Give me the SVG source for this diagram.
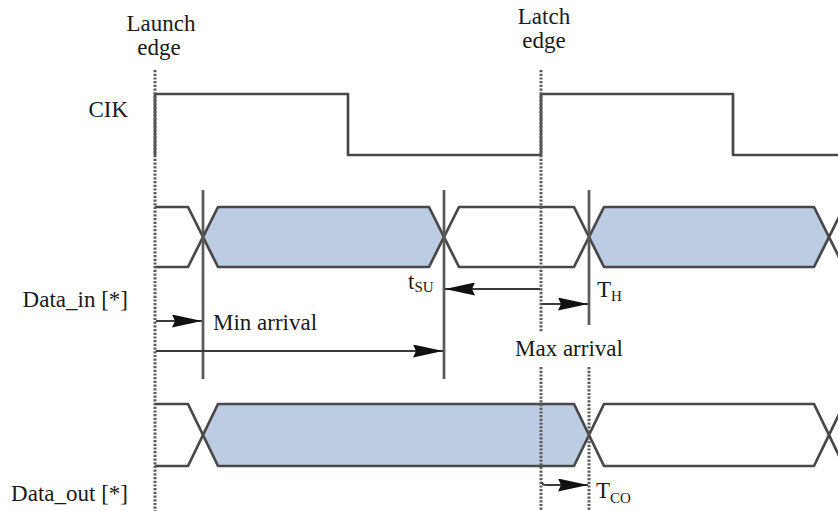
<svg xmlns="http://www.w3.org/2000/svg" width="838" height="511" viewBox="0 0 838 511">
<style>
text{font-family:"Liberation Serif","Times New Roman",serif;fill:#1a1a1a;font-size:23px}
.sig{fill:none;stroke:#484848;stroke-width:2.7;stroke-linejoin:round}
.fillb{fill:#bccce2;stroke:none}
.dot{stroke:#5c5c5c;stroke-width:3;stroke-dasharray:2.2 1.5;fill:none}
.mark{stroke:#5a5a5a;stroke-width:2.7;fill:none}
.arr{stroke:#3c3c3c;stroke-width:2;fill:none;marker-end:url(#ah)}
.sub{font-size:15px}
</style>
<defs>
<marker id="ah" viewBox="0 0 30 13" markerUnits="userSpaceOnUse" markerWidth="30" markerHeight="13" refX="30" refY="6.5" orient="auto">
<path d="M0,0 L30,6.5 L0,13 L3,6.5 z" fill="#111"/>
</marker>
</defs>
<rect width="838" height="511" fill="#fff"/>

<g id="labels">
<text x="161" y="31" text-anchor="middle">Launch</text>
<text x="159" y="55" text-anchor="middle">edge</text>
<text x="544" y="24" text-anchor="middle">Latch</text>
<text x="544" y="48" text-anchor="middle">edge</text>
<text x="128" y="117" text-anchor="end">CIK</text>
<text x="128" y="307" text-anchor="end">Data_in [*]</text>
<text x="128" y="501" text-anchor="end">Data_out [*]</text>
</g>

<g id="clk">
<path class="sig" d="M155,155 V94 H348 V155 H541 V94 H733 V155 H840"/>
</g>

<g id="data_in">
<polygon class="fillb" points="203,237 218,207 429,207 444,237 429,267 218,267"/>
<polygon class="fillb" points="589,237 604,207 814,207 829,237 814,267 604,267"/>
<path class="sig" d="M155,207 H188 L218,267 H429 L459,207 H574 L604,267 H814 L844,207"/>
<path class="sig" d="M155,267 H188 L218,207 H429 L459,267 H574 L604,207 H814 L844,267"/>
</g>

<g id="data_out">
<polygon class="fillb" points="203,435 218,404 574,404 589,435 574,466 218,466"/>
<path class="sig" d="M155,404 H188 L218,466 H574 L604,404 H814 L844,466"/>
<path class="sig" d="M155,466 H188 L218,404 H574 L604,466 H814 L844,404"/>
</g>

<g id="edges">
<line class="dot" x1="155" y1="70" x2="155" y2="511"/>
<line class="dot" x1="541" y1="70" x2="541" y2="332"/>
<line class="dot" x1="541" y1="367" x2="541" y2="511"/>
<line class="dot" x1="589" y1="367" x2="589" y2="511"/>
<line class="mark" x1="203" y1="190" x2="203" y2="379"/>
<line class="mark" x1="444" y1="190" x2="444" y2="379"/>
<line class="mark" x1="589" y1="190" x2="589" y2="325"/>
</g>

<g id="connectors">
<line class="arr" x1="156" y1="321" x2="202" y2="321"/>
<line class="arr" x1="156" y1="351" x2="443" y2="351"/>
<line class="arr" x1="540" y1="289" x2="445" y2="289"/>
<line class="arr" x1="542" y1="304" x2="588" y2="304"/>
<path class="arr" d="M542,482 Q542,485 546,485 H588"/>
</g>

<g id="timing-labels">
<text x="213" y="330">Min arrival</text>
<text x="515" y="356">Max arrival</text>
<text x="408" y="289">t<tspan class="sub" dy="3">SU</tspan></text>
<text x="597" y="297" font-size="21">T<tspan class="sub" dy="4">H</tspan></text>
<text x="596" y="498" font-size="22">T<tspan class="sub" dy="5">CO</tspan></text>
</g>
</svg>
